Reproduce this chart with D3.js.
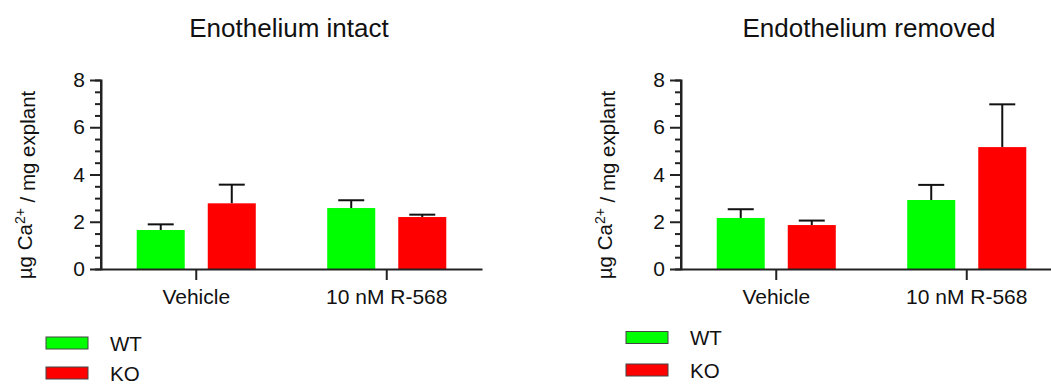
<!DOCTYPE html>
<meta charset="utf-8">
<head>
    <script src="https://d3js.org/d3.v7.min.js"></script>
    <style>
        body { margin: 0; background: #fff; }
        text { font-family: "Liberation Sans", Arial, sans-serif; fill: #111; }
        .axis path, .axis line { stroke: #222; stroke-width: 2px; }
        .axis text { font-size: 21px; }
    </style>
</head>
<body>
<svg id="chart" width="1051" height="385"></svg>

<script>
    // values
    var groups = ["Vehicle", "10 nM R-568"];
    var series = ["WT", "KO"];
    var colors = ["#00ff00", "#ff0000"];
    var yTicks = [0, 2, 4, 6, 8];

    var intactWT = [1.65, 2.58];
    var intactWTErr = [0.24, 0.33];
    var intactKO = [2.78, 2.20];
    var intactKOErr = [0.79, 0.10];

    var removedWT = [2.16, 2.92];
    var removedWTErr = [0.37, 0.64];
    var removedKO = [1.86, 5.16];
    var removedKOErr = [0.19, 1.81];

    var svg = d3.select("#chart");

    function drawPanel(x0, title, wt, wtErr, ko, koErr, legendY, legendGap) {
        var g = svg.append("g").attr("transform", "translate(" + x0 + ",0)");

        var x = d3.scaleBand().domain(groups).range([0, 381])
            .paddingInner(0.375).paddingOuter(0.1875);
        var xi = d3.scaleBand().domain(series).range([0, x.bandwidth()])
            .paddingInner(0.324);
        var y = d3.scaleLinear().domain([0, 8]).range([269, 80]);

        var rows = [];
        groups.forEach(function (grp, i) {
            rows.push({group: grp, s: "WT", v: wt[i], e: wtErr[i], c: colors[0]});
            rows.push({group: grp, s: "KO", v: ko[i], e: koErr[i], c: colors[1]});
        });

        // error bars (drawn first, bar covers lower part)
        var eb = g.selectAll(".err").data(rows).enter().append("g").attr("class", "err");
        eb.append("line")
            .attr("x1", function (d) { return x(d.group) + xi(d.s) + xi.bandwidth() / 2; })
            .attr("x2", function (d) { return x(d.group) + xi(d.s) + xi.bandwidth() / 2; })
            .attr("y1", function (d) { return y(d.v); })
            .attr("y2", function (d) { return y(d.v + d.e); })
            .attr("stroke", "#111").attr("stroke-width", 2);
        eb.append("line")
            .attr("x1", function (d) { return x(d.group) + xi(d.s) + xi.bandwidth() / 2 - 13; })
            .attr("x2", function (d) { return x(d.group) + xi(d.s) + xi.bandwidth() / 2 + 13; })
            .attr("y1", function (d) { return y(d.v + d.e); })
            .attr("y2", function (d) { return y(d.v + d.e); })
            .attr("stroke", "#111").attr("stroke-width", 2);

        g.selectAll(".bar").data(rows).enter().append("rect")
            .attr("class", "bar")
            .attr("x", function (d) { return x(d.group) + xi(d.s); })
            .attr("width", xi.bandwidth())
            .attr("y", function (d) { return y(d.v); })
            .attr("height", function (d) { return y(0) - y(d.v); })
            .attr("fill", function (d) { return d.c; });

        // y axis: minor ticks every 0.5
        var minor = d3.range(0, 8.01, 0.5).filter(function (t) { return t % 2 !== 0; });
        g.append("g").attr("class", "axis")
            .call(d3.axisLeft(y).tickValues(minor).tickSize(6).tickFormat(""));
        g.append("g").attr("class", "axis")
            .call(d3.axisLeft(y).tickValues(yTicks).tickSize(11).tickPadding(5).tickFormat(d3.format("d")))
            .select(".domain").attr("d", "M0," + y(8) + "V" + y(0));

        g.append("g").attr("class", "axis")
            .attr("transform", "translate(0," + y(0) + ")")
            .call(d3.axisBottom(x).tickSize(11).tickPadding(6).tickSizeOuter(0))
            .selectAll("text").attr("dy", "0.85em");

        g.append("text")
            .attr("x", 188).attr("y", 37)
            .attr("text-anchor", "middle")
            .style("font-size", "26px")
            .text(title);

        var lab = g.append("text")
            .attr("transform", "translate(-69,185) rotate(-90)")
            .attr("text-anchor", "middle")
            .style("font-size", "20.5px");
        lab.append("tspan").text("µg Ca");
        lab.append("tspan").attr("dy", "-0.5em").style("font-size", "14px").text("2+");
        lab.append("tspan").attr("dy", "0.5em").text(" / mg explant");

        // legend
        var leg = g.selectAll(".leg").data(series).enter().append("g")
            .attr("transform", function (d, i) { return "translate(-55," + (legendY + i * legendGap) + ")"; });
        leg.append("rect")
            .attr("x", 0).attr("y", -6).attr("width", 42).attr("height", 12)
            .attr("fill", function (d, i) { return colors[i]; })
            .attr("stroke", "#444").attr("stroke-width", 1);
        leg.append("text")
            .attr("x", 64).attr("y", 7.5)
            .style("font-size", "20.5px")
            .text(function (d) { return d; });
    }

    drawPanel(101, "Enothelium intact", intactWT, intactWTErr, intactKO, intactKOErr, 343, 30);
    drawPanel(681, "Endothelium removed", removedWT, removedWTErr, removedKO, removedKOErr, 337.5, 32.5);
</script>
</body>
